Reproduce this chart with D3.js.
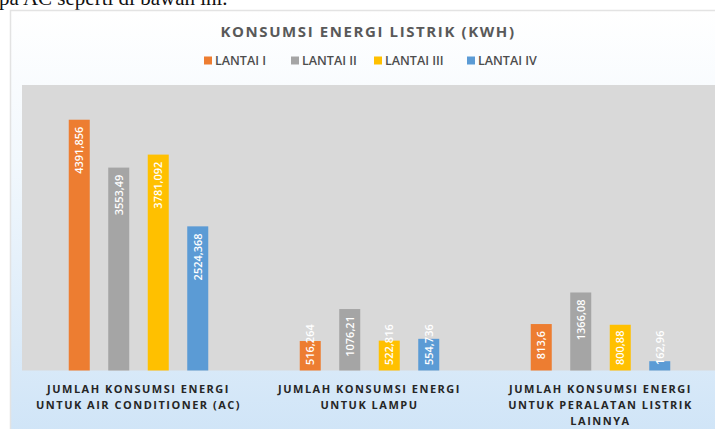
<!DOCTYPE html>
<meta charset="utf-8">
<title>Konsumsi Energi Listrik</title>
<style>
  body { margin: 0; background: #fff; }
</style>
<body>
<div id="chart"></div>
<script src="https://d3js.org/d3.v7.min.js"></script>
<script>
  // data
  const categories = ["AC", "LAMPU", "LAINNYA"];
  const categoryLines = [
    ["JUMLAH KONSUMSI ENERGI", "UNTUK AIR CONDITIONER (AC)"],
    ["JUMLAH KONSUMSI ENERGI", "UNTUK LAMPU"],
    ["JUMLAH KONSUMSI ENERGI", "UNTUK PERALATAN LISTRIK", "LAINNYA"]
  ];
  const seriesNames = ["LANTAI I", "LANTAI II", "LANTAI III", "LANTAI IV"];
  const lantai1 = [4391.856, 516.264, 813.6];
  const lantai2 = [3553.49, 1076.21, 1366.08];
  const lantai3 = [3781.092, 522.816, 800.88];
  const lantai4 = [2524.368, 554.736, 162.96];
  const seriesValues = [lantai1, lantai2, lantai3, lantai4];
  const colors = ["#ED7D31", "#A5A5A5", "#FFC000", "#5B9BD5"];

  const W = 715, H = 429;
  const plot = {left: 23, right: 716, top: 85, bottom: 370.5};

  const svg = d3.select("#chart").append("svg")
    .attr("width", W).attr("height", H);

  // background gradient of the chart box
  const defs = svg.append("defs");
  const grad = defs.append("linearGradient").attr("id", "bg")
    .attr("x1", 0).attr("y1", 0).attr("x2", 0).attr("y2", 1);
  grad.append("stop").attr("offset", "0%").attr("stop-color", "#ffffff");
  grad.append("stop").attr("offset", "35%").attr("stop-color", "#f2f8fd");
  grad.append("stop").attr("offset", "100%").attr("stop-color", "#cfe4f7");

  // line of document text above the chart (cut by the page top in the original)
  svg.append("text")
    .attr("x", -1).attr("y", 5)
    .style("font-family", "'Liberation Serif', serif")
    .style("font-size", "21px")
    .attr("fill", "#111")
    .text("pa AC seperti di bawah ini.");

  svg.append("rect")
    .attr("x", 10.5).attr("y", 10.5)
    .attr("width", 720).attr("height", 430)
    .attr("fill", "url(#bg)")
    .attr("stroke", "#e3e3e3").attr("stroke-width", 1.5);

  svg.append("rect")
    .attr("x", plot.left - 1).attr("y", plot.top)
    .attr("width", plot.right - plot.left + 1).attr("height", plot.bottom - plot.top)
    .attr("fill", "#d9d9d9");

  // scales
  const x0 = d3.scaleBand().domain(categories).range([plot.left, plot.right]);
  const x1 = d3.scaleBand().domain(seriesNames).range([0, x0.bandwidth()])
    .paddingInner(0.468).paddingOuter(1.158);
  const y = d3.scaleLinear().domain([0, 5000]).range([plot.bottom, plot.top]);

  // title
  svg.append("text")
    .attr("x", 368).attr("y", 37)
    .attr("text-anchor", "middle")
    .style("font-family", "'Open Sans', sans-serif")
    .style("font-size", "15px").style("font-weight", "bold")
    .style("letter-spacing", "1.6px")
    .attr("fill", "#595959")
    .text("KONSUMSI  ENERGI  LISTRIK  (KWH)");

  // legend
  const legendX = [204, 291, 374, 467];
  const legend = svg.append("g");
  seriesNames.forEach((s, i) => {
    legend.append("rect")
      .attr("x", legendX[i]).attr("y", 56.5)
      .attr("width", 8).attr("height", 8)
      .attr("fill", colors[i]);
    legend.append("text")
      .attr("x", legendX[i] + 11).attr("y", 65)
      .style("font-family", "'Open Sans', sans-serif")
      .style("font-size", "12.5px").style("font-weight", "600")
      .attr("fill", "#4d4d4d")
      .text(s);
  });

  // bars
  const rows = [];
  categories.forEach((c, ci) => {
    seriesNames.forEach((s, si) => {
      rows.push({cat: c, ser: s, value: seriesValues[si][ci], color: colors[si]});
    });
  });

  svg.append("g").selectAll("rect")
    .data(rows)
    .join("rect")
      .attr("x", d => x0(d.cat) + x1(d.ser))
      .attr("y", d => y(d.value))
      .attr("width", x1.bandwidth())
      .attr("height", d => y(0) - y(d.value))
      .attr("fill", d => d.color);

  // data labels, rotated, inside end
  const labels = svg.append("g").selectAll("text")
    .data(rows)
    .join("text")
      .attr("transform", d => {
        const cx = x0(d.cat) + x1(d.ser) + x1.bandwidth() / 2 + 4;
        return `translate(${cx},0) rotate(-90)`;
      })
      .style("font-family", "'Open Sans', sans-serif")
      .style("font-size", "11px").style("font-weight", "600")
      .attr("fill", "#ffffff")
      .text(d => String(d.value).replace(".", ","));

  labels.each(function(d) {
    const len = this.getComputedTextLength();
    const top = y(d.value) + 7;
    const base = y(0) - 5.5;
    const t = d3.select(this);
    if (top + len > base) {
      t.attr("x", -base).attr("text-anchor", "start");
    } else {
      t.attr("x", -top).attr("text-anchor", "end");
    }
  });

  // category labels
  categories.forEach((c, ci) => {
    const cx = x0(c) + x0.bandwidth() / 2;
    const t = svg.append("text")
      .attr("text-anchor", "middle")
      .style("font-family", "'Open Sans', sans-serif")
      .style("font-size", "11px").style("font-weight", "bold")
      .style("letter-spacing", "1.5px")
      .attr("fill", "#262626");
    categoryLines[ci].forEach((line, li) => {
      t.append("tspan")
        .attr("x", cx).attr("y", 392.5 + li * 16)
        .text(line);
    });
  });
</script>
</body>
